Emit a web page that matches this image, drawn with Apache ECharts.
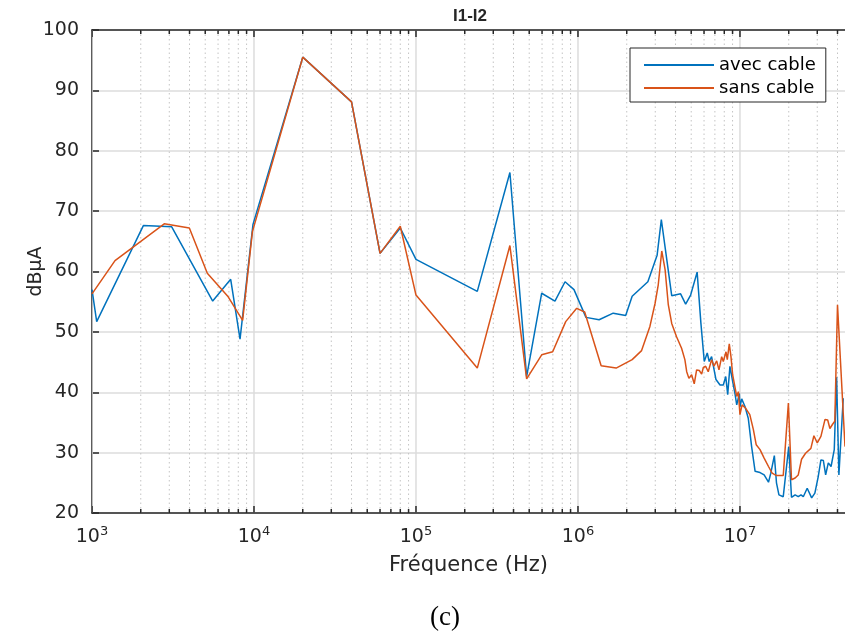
<!DOCTYPE html>
<html>
<head>
<meta charset="utf-8">
<script src="https://cdn.jsdelivr.net/npm/echarts@6/dist/echarts.min.js"></script>
<style>html,body{margin:0;padding:0;background:#fff}#c{width:845px;height:635px}</style>
</head>
<body>
<div id="c"></div>
<script>
// Frequencies (Hz) and levels (dBµA)
const avecFreq = [1000,1069,2075,3105,5560,7180,8200,9860,20000,40000,60000,80000,100000,239000,380000,482000,597000,721000,832000,945000,1120000,1350000,1650000,1970000,2160000,2700000,3080000,3270000,3790000,4300000,4620000,4960000,5440000,5740000,6020000,6280000,6460000,6680000,7110000,7530000,7890000,8170000,8400000,8670000,9010000,9310000,9550000,9910000,10000000,10250000,10750000,11250000,11800000,12400000,13300000,14100000,15000000,15500000,16300000,16800000,17400000,18500000,20000000,20800000,21900000,22900000,23800000,24600000,26000000,27700000,29000000,30400000,31600000,32700000,33800000,35100000,36500000,38200000,39500000,40800000,43400000];
const avecVal = [57.0,51.7,67.6,67.4,55.1,58.7,48.8,67.8,95.5,88.1,63.0,67.2,62.0,56.7,76.4,42.6,56.4,55.1,58.3,57.0,52.4,52.0,53.1,52.7,55.9,58.3,62.7,68.6,56.0,56.3,54.6,56.1,59.9,51.4,45.1,46.5,45.1,45.9,42.1,41.2,41.2,42.6,39.6,44.3,41.8,39.8,37.9,39.8,37.6,38.9,37.6,35.7,31.0,26.9,26.7,26.3,25.1,26.6,29.5,25.0,23.0,22.7,31.0,22.6,23.0,22.7,23.0,22.7,24.1,22.5,23.3,26.0,28.8,28.7,26.3,28.3,27.7,30.5,42.5,26.3,39.0];

const sansFreq = [1000,1387,2792,3990,5150,6930,8510,9780,20000,40000,60000,80000,100000,239000,380000,482000,597000,698000,840000,982000,1100000,1390000,1720000,2160000,2470000,2780000,2990000,3130000,3290000,3450000,3610000,3790000,4060000,4360000,4570000,4690000,4840000,5030000,5220000,5400000,5610000,5800000,5940000,6140000,6370000,6680000,6910000,7180000,7420000,7710000,7890000,8200000,8350000,8590000,8800000,9010000,9310000,9550000,9770000,10000000,10300000,10800000,11500000,12100000,12600000,13300000,14100000,15000000,15800000,16800000,18500000,19900000,20800000,21900000,22900000,24000000,25400000,27400000,28600000,30000000,31600000,33500000,34800000,35900000,37300000,38500000,40000000,44500000];
const sansVal = [56.3,61.8,67.9,67.2,59.7,55.8,51.9,66.6,95.5,88.1,63.0,67.5,56.1,44.0,64.3,42.2,46.2,46.7,51.7,53.9,53.3,44.4,44.0,45.4,46.9,50.9,54.7,57.8,63.4,60.3,54.5,51.4,49.2,47.3,45.4,43.4,42.3,42.9,41.4,43.7,43.6,43.0,44.1,44.3,43.4,45.4,44.3,45.2,43.7,45.9,45.1,46.7,45.4,48.0,45.9,42.9,40.9,39.3,40.1,36.3,37.9,37.4,36.3,33.8,31.3,30.5,29.1,27.7,26.6,26.2,26.2,38.2,25.5,25.8,26.3,28.9,29.9,30.7,32.8,31.6,32.7,35.5,35.4,34.0,34.7,35.2,54.5,31.0];

const seriesNames = ['avec cable', 'sans cable'];
const yTicks = [20,30,40,50,60,70,80,90,100];
const xMin = 1000, xMax = 4.45e7;
const majorTicks = [1e3, 1e4, 1e5, 1e6, 1e7];
// minor (2..9 x decade) positions for dotted grid and small ticks
const minorTicks = [];
for (let d = 1000; d < xMax; d *= 10) {
  for (let m = 2; m <= 9; m++) { if (d * m < xMax) minorTicks.push(d * m); }
}

const AX = '#262626';
const FONT = 'DejaVu Sans, Liberation Sans, Arial, sans-serif';
const chart = echarts.init(document.getElementById('c'));
const pairs = (xs, ys) => xs.map((x, i) => [x, ys[i]]);
const isDecade = v => Math.abs(Math.log10(v) - Math.round(Math.log10(v))) < 1e-6;

function tickRenderer(kind) {
  return (params, api) => {
    const x = api.coord([api.value(0), 20])[0];
    const cs = params.coordSys;
    const major = kind === 'major';
    const len = major ? 7 : 4;
    return { type: 'group', children: [
      { type: 'line', shape: { x1: x, y1: cs.y, x2: x, y2: cs.y + cs.height },
        style: major ? { stroke: '#dcdcdc', lineWidth: 1.5 }
                     : { stroke: '#c4c4c4', lineWidth: 1, lineDash: [1.5, 3] } },
      { type: 'line', shape: { x1: x, y1: cs.y + cs.height, x2: x, y2: cs.y + cs.height - len },
        style: { stroke: AX, lineWidth: 1.5 } },
      { type: 'line', shape: { x1: x, y1: cs.y, x2: x, y2: cs.y + len },
        style: { stroke: AX, lineWidth: 1.5 } }
    ] };
  };
}

chart.setOption({
  animation: false,
  backgroundColor: '#ffffff',
  textStyle: { fontFamily: FONT },
  title: [
    { text: 'I1-I2', left: 465, top: 3, textAlign: 'center',
      textStyle: { fontSize: 17, fontWeight: 'bold', color: AX, fontFamily: 'Liberation Sans, Arial, sans-serif' } },
    { text: '(c)', left: 440, top: 599, textAlign: 'center',
      textStyle: { fontSize: 27, fontWeight: 'normal', color: '#000', fontFamily: 'Liberation Serif, Times New Roman, serif' } }
  ],
  legend: {
    data: seriesNames,
    orient: 'vertical',
    left: 630, top: 48,
    backgroundColor: '#fff',
    borderColor: AX, borderWidth: 1,
    padding: [8, 10, 5, 14],
    icon: 'rect',
    itemWidth: 70, itemHeight: 2, itemGap: 5,
    textStyle: { fontSize: 18, lineHeight: 18, color: '#000', fontFamily: FONT }
  },
  grid: { left: 92, top: 30, width: 753, height: 483, containLabel: false, outerBoundsMode: 'none' },
  xAxis: [
    {
      type: 'log', logBase: 10, min: xMin, max: xMax,
      name: 'Fréquence (Hz)', nameLocation: 'middle', nameGap: 42, nameMoveOverlap: false,
      nameTextStyle: { fontSize: 21, color: AX, fontFamily: FONT },
      axisLine: { show: true, lineStyle: { color: AX, width: 1.5 } },
      axisTick: { show: false },
      axisLabel: {
        margin: 12, showMaxLabel: true, hideOverlap: false,
        formatter: v => isDecade(v) ? '{b|10}{s|' + Math.round(Math.log10(v)) + '}' : '',
        rich: {
          b: { fontSize: 19, color: AX, lineHeight: 22, verticalAlign: 'bottom', fontFamily: FONT },
          s: { fontSize: 13, color: AX, verticalAlign: 'top', lineHeight: 22, fontFamily: FONT }
        }
      },
      splitLine: { show: false }
    },
    {
      type: 'log', logBase: 10, min: xMin, max: xMax, position: 'top',
      axisLine: { show: true, lineStyle: { color: AX, width: 1.5 } },
      axisTick: { show: false },
      axisLabel: { show: false },
      splitLine: { show: false }
    }
  ],
  yAxis: {
    type: 'value', min: 20, max: 100, interval: 10,
    name: 'dBµA', nameLocation: 'middle', nameGap: 46, nameMoveOverlap: false,
    nameTextStyle: { fontSize: 19, color: AX, fontFamily: FONT },
    axisLine: { show: true, lineStyle: { color: AX, width: 1.5 } },
    axisTick: { show: true, inside: true, length: 7, lineStyle: { color: AX, width: 1.5 } },
    axisLabel: { fontSize: 19, color: AX, margin: 13, fontFamily: FONT,
      formatter: v => (yTicks.indexOf(v) >= 0 ? String(v) : '') },
    splitLine: { show: true, lineStyle: { color: '#dcdcdc', width: 1.5 } }
  },
  series: [
    {
      type: 'custom', name: 'minor', silent: true, z: 1, clip: true,
      data: minorTicks.map(v => [v, 20]),
      renderItem: tickRenderer('minor')
    },
    {
      type: 'custom', name: 'major', silent: true, z: 1, clip: true,
      data: majorTicks.map(v => [v, 20]),
      renderItem: tickRenderer('major')
    },
    {
      name: seriesNames[0], type: 'line', data: pairs(avecFreq, avecVal),
      symbol: 'none', z: 3, color: '#0072BD',
      lineStyle: { width: 1.5, color: '#0072BD' }
    },
    {
      name: seriesNames[1], type: 'line', data: pairs(sansFreq, sansVal),
      symbol: 'none', z: 4, color: '#D95319',
      lineStyle: { width: 1.5, color: '#D95319' }
    }
  ]
});
</script>
</body>
</html>
